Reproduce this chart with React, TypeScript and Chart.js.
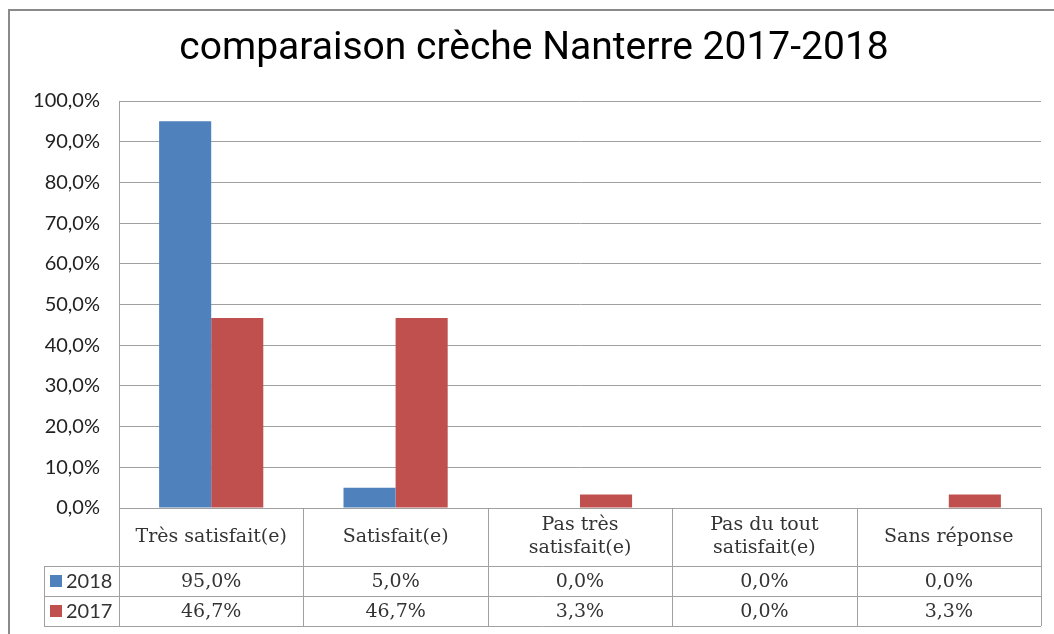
import React, { useEffect, useRef } from "react";
import { Chart, registerables } from "chart.js";

Chart.register(...registerables);

const TITLE = "comparaison crèche Nanterre 2017-2018";
const categories = ["Très satisfait(e)", "Satisfait(e)", "Pas très satisfait(e)", "Pas du tout satisfait(e)", "Sans réponse"];
const headerLines = [["Très satisfait(e)"], ["Satisfait(e)"], ["Pas très", "satisfait(e)"], ["Pas du tout", "satisfait(e)"], ["Sans réponse"]];
const series2018 = [95.0, 5.0, 0.0, 0.0, 0.0];
const series2017 = [46.7, 46.7, 3.3, 0.0, 3.3];
const seriesNames = ["2018", "2017"];
const yTicks = [0, 10, 20, 30, 40, 50, 60, 70, 80, 90, 100];

const BLUE = "#4F81BD";
const RED = "#C0504D";
const LINE = "#a0a0a0";
const TXT = "#333333";
const TABLE_FONT = '19px "DejaVu Serif"';

const fmt = (v: number) => v.toFixed(1).replace(".", ",") + "%";

const tablePlugin = {
  id: "tablePlugin",
  afterDraw(chart: any) {
    const ctx = chart.ctx as CanvasRenderingContext2D;
    const x = chart.scales.x;
    const area = chart.chartArea;
    const n = categories.length;
    const cw = (area.right - area.left) / n;
    ctx.save();
    // frame
    ctx.strokeStyle = "#8a8a8a";
    ctx.lineWidth = 2;
    ctx.beginPath();
    ctx.moveTo(9, 634);
    ctx.lineTo(9, 10);
    ctx.lineTo(1054, 10);
    ctx.stroke();
    // title
    ctx.fillStyle = "#000";
    ctx.font = '39px "Roboto"';
    ctx.textAlign = "center";
    ctx.textBaseline = "middle";
    ctx.fillText(TITLE, 534, 49);

    const top = area.bottom;
    const h0 = 58, h1 = 30, h2 = 30;
    const r1 = top + h0, r2 = r1 + h1, r3 = r2 + h2;
    const legL = 44;
    ctx.strokeStyle = LINE;
    ctx.lineWidth = 1;
    ctx.beginPath();
    ctx.moveTo(area.left, top + 0.5); ctx.lineTo(area.right, top + 0.5);
    ctx.moveTo(legL, r1 + 0.5); ctx.lineTo(area.right, r1 + 0.5);
    ctx.moveTo(legL, r2 + 0.5); ctx.lineTo(area.right, r2 + 0.5);
    ctx.moveTo(legL, r3 + 0.5); ctx.lineTo(area.right, r3 + 0.5);
    ctx.moveTo(legL + 0.5, r1); ctx.lineTo(legL + 0.5, r3);
    for (let i = 0; i <= n; i++) {
      const xx = Math.round(area.left + i * cw) + 0.5;
      ctx.moveTo(xx, top); ctx.lineTo(xx, r3);
    }
    ctx.stroke();

    ctx.fillStyle = TXT;
    ctx.font = TABLE_FONT;
    ctx.textAlign = "center";
    ctx.textBaseline = "middle";
    for (let i = 0; i < n; i++) {
      const cx = x.getPixelForValue(i);
      const lines = headerLines[i];
      const lh = 23;
      const y0 = top + h0 / 2 - ((lines.length - 1) * lh) / 2;
      lines.forEach((l, k) => ctx.fillText(l, cx, y0 + k * lh));
      ctx.fillText(fmt(series2018[i]), cx, r1 + h1 / 2 + 1);
      ctx.fillText(fmt(series2017[i]), cx, r2 + h2 / 2 + 1);
    }
    const rows = [r1, r2];
    ctx.font = '20px "Lato"';
    [BLUE, RED].forEach((c, k) => {
      const ry = rows[k] + 15;
      ctx.fillStyle = c;
      ctx.fillRect(50, ry - 6, 12, 12);
      ctx.fillStyle = TXT;
      ctx.textAlign = "left";
      ctx.fillText(seriesNames[k], 66, ry + 1);
    });
    ctx.restore();
  },
};

export default function App() {
  const ref = useRef<HTMLCanvasElement>(null);
  useEffect(() => {
    if (!ref.current) return;
    const chart = new Chart(ref.current, {
      type: "bar",
      data: {
        labels: categories,
        datasets: [
          { label: seriesNames[0], data: series2018, backgroundColor: BLUE, categoryPercentage: 0.565, barPercentage: 1 },
          { label: seriesNames[1], data: series2017, backgroundColor: RED, categoryPercentage: 0.565, barPercentage: 1 },
        ],
      },
      options: {
        animation: false,
        responsive: true,
        maintainAspectRatio: false,
        layout: { padding: { left: 9, right: 13, top: 101, bottom: 126 } },
        plugins: { legend: { display: false }, title: { display: false }, tooltip: { enabled: false } },
        scales: {
          x: {
            grid: { display: false },
            ticks: { display: false },
            border: { display: false },
            afterFit: (s: any) => { s.height = 0; },
          },
          y: {
            min: 0,
            max: 100,
            afterBuildTicks: (s: any) => { s.ticks = yTicks.map((v) => ({ value: v })); },
            afterFit: (s: any) => { s.width = 110; },
            ticks: {
              padding: 19,
              color: "#222",
              font: { family: "Lato", size: 20 },
              callback: (v: any) => fmt(Number(v)),
            },
            grid: { color: LINE, drawTicks: false },
            border: { color: LINE },
          },
        },
      },
      plugins: [tablePlugin],
    });
    return () => chart.destroy();
  }, []);
  return (
    <div style={{ position: "fixed", left: 0, top: 0, width: 1054, height: 634, background: "#fff" }}>
      <canvas ref={ref} />
    </div>
  );
}
